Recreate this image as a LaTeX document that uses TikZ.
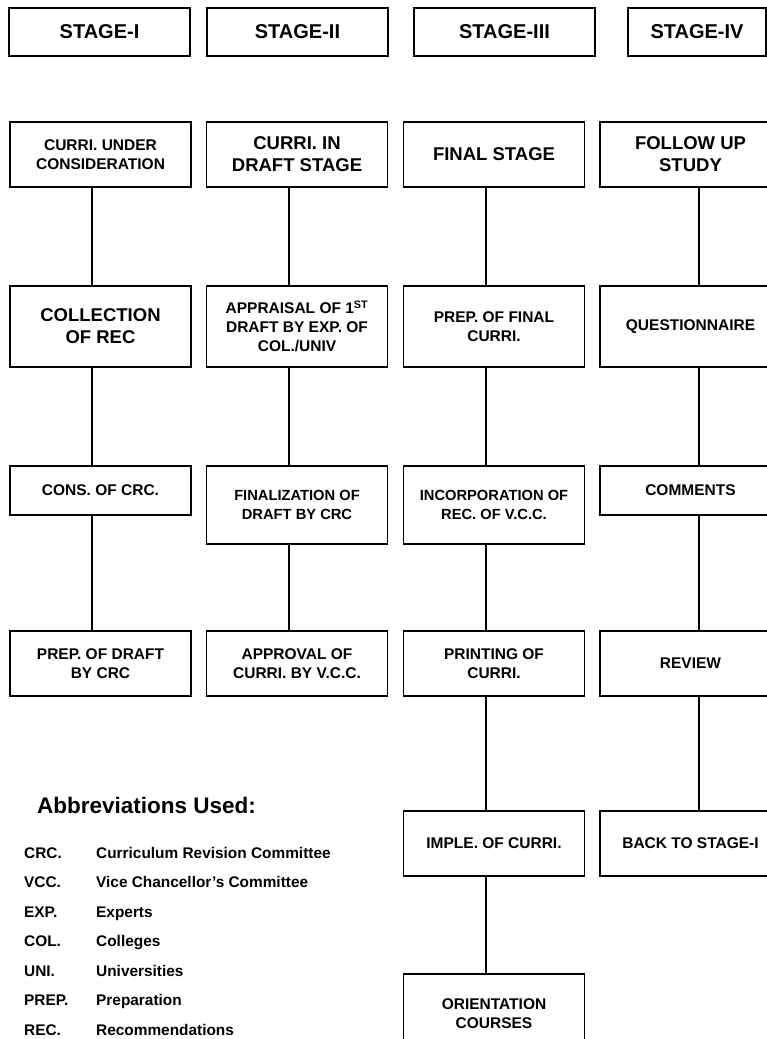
\documentclass[tikz,border=0pt]{standalone}
\usepackage{fontspec}
\setmainfont{Liberation Sans}
\begin{document}
\begin{tikzpicture}[x=1pt,y=-1pt]
\tikzset{
  box/.style={draw, line width=1.3pt, minimum width=181pt, align=center, inner sep=2pt,
    font=\bfseries\fontsize{15.5}{19}\selectfont},
  bigtxt/.style={font=\bfseries\fontsize{18.5}{22}\selectfont},
  midtxt/.style={font=\bfseries\fontsize{14.7}{18.5}\selectfont},
  stagebox/.style={draw, line width=1.3pt, minimum width=181pt, minimum height=48pt,
    font=\bfseries\fontsize{20}{24}\selectfont},
  conn/.style={line width=1.3pt},
  abbk/.style={anchor=base west, font=\bfseries\fontsize{15.4}{18}\selectfont, inner sep=0pt},
}
\useasboundingbox (0,0) rectangle (767,1039);
% stage headers
\node[stagebox] (s1) at (99.5,32) {STAGE-I};
\node[stagebox] (s2) at (297.5,32) {STAGE-II};
\node[stagebox] (s3) at (504.5,32) {STAGE-III};
\node[stagebox, minimum width=138pt] (s4) at (697,32) {STAGE-IV};
% line positions
\coordinate (x1) at (92,0);
\coordinate (x2) at (289,0);
\coordinate (x3) at (486,0);
\coordinate (x4) at (699,0);
% row 1
\node[box, minimum height=65pt] (a1) at (100.5,154.5) {CURRI. UNDER\\CONSIDERATION};
\node[box, bigtxt, minimum height=65pt] (b1) at (297,154.5) {CURRI. IN\\DRAFT STAGE};
\node[box, bigtxt, minimum height=65pt] (c1) at (494,154.5) {FINAL STAGE};
\node[box, bigtxt, minimum height=65pt] (d1) at (690.5,154.5) {FOLLOW UP\\STUDY};
% row 2
\node[box, bigtxt, minimum height=81pt] (a2) at (100.5,326.5) {COLLECTION\\OF REC};
\node[box, minimum height=81pt] (b2) at (297,326.5) {APPRAISAL OF 1\textsuperscript{ST}\\DRAFT BY EXP. OF\\COL./UNIV};
\node[box, minimum height=81pt] (c2) at (494,326.5) {PREP. OF FINAL\\CURRI.};
\node[box, minimum height=81pt] (d2) at (690.5,326.5) {QUESTIONNAIRE};
% row 3
\node[box, minimum height=49pt] (a3) at (100.5,490.5) {CONS. OF CRC.};
\node[box, midtxt, minimum height=78pt] (b3) at (297,505) {FINALIZATION OF\\DRAFT BY CRC};
\node[box, midtxt, minimum height=78pt] (c3) at (494,505) {INCORPORATION OF\\REC. OF V.C.C.};
\node[box, minimum height=49pt] (d3) at (690.5,490.5) {COMMENTS};
% row 4
\node[box, minimum height=65pt] (a4) at (100.5,663.5) {PREP. OF DRAFT\\BY CRC};
\node[box, minimum height=65pt] (b4) at (297,663.5) {APPROVAL OF\\CURRI. BY V.C.C.};
\node[box, minimum height=65pt] (c4) at (494,663.5) {PRINTING OF\\CURRI.};
\node[box, minimum height=65pt] (d4) at (690.5,663.5) {REVIEW};
% row 5
\node[box, minimum height=65pt] (c5) at (494,843.5) {IMPLE. OF CURRI.};
\node[box, minimum height=65pt] (d5) at (690.5,843.5) {BACK TO STAGE-I};
% row 6
\node[box, minimum height=80pt] (c6) at (494,1014) {ORIENTATION\\COURSES};
% connectors
\draw[conn] (a1.south -| x1) -- (a2.north -| x1);
\draw[conn] (a2.south -| x1) -- (a3.north -| x1);
\draw[conn] (a3.south -| x1) -- (a4.north -| x1);
\draw[conn] (b1.south -| x2) -- (b2.north -| x2);
\draw[conn] (b2.south -| x2) -- (b3.north -| x2);
\draw[conn] (b3.south -| x2) -- (b4.north -| x2);
\draw[conn] (c1.south -| x3) -- (c2.north -| x3);
\draw[conn] (c2.south -| x3) -- (c3.north -| x3);
\draw[conn] (c3.south -| x3) -- (c4.north -| x3);
\draw[conn] (c4.south -| x3) -- (c5.north -| x3);
\draw[conn] (c5.south -| x3) -- (c6.north -| x3);
\draw[conn] (d1.south -| x4) -- (d2.north -| x4);
\draw[conn] (d2.south -| x4) -- (d3.north -| x4);
\draw[conn] (d3.south -| x4) -- (d4.north -| x4);
\draw[conn] (d4.south -| x4) -- (d5.north -| x4);
% abbreviations
\node[anchor=base west, inner sep=0pt, font=\bfseries\fontsize{22.5}{26}\selectfont] (abh) at (37,813) {Abbreviations Used:};
\foreach \k/\d [count=\i from 0] in {CRC./Curriculum Revision Committee, VCC./Vice Chancellor’s Committee, EXP./Experts, COL./Colleges, UNI./Universities, PREP./Preparation, REC./Recommendations}{
  \node[abbk] (abk\i) at (24,858+29.5*\i) {\k};
  \node[abbk] (abd\i) at (96,858+29.5*\i) {\d};
}
\end{tikzpicture}
\end{document}
